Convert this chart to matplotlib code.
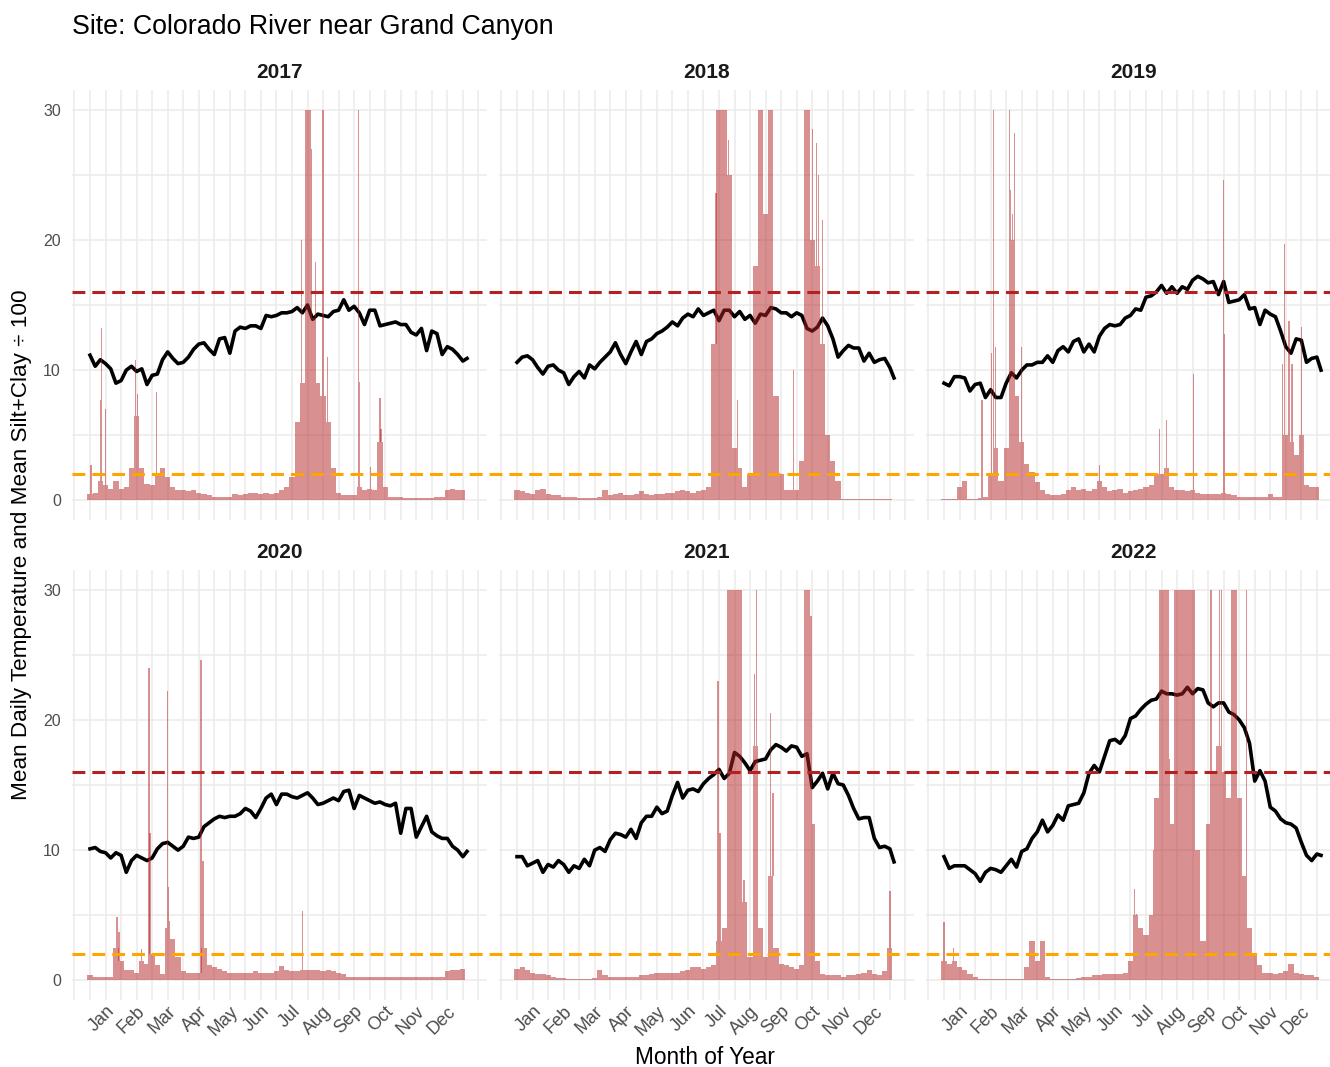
import numpy as np
import matplotlib
matplotlib.use("Agg")
import matplotlib.pyplot as plt
from matplotlib.lines import Line2D
from matplotlib.transforms import blended_transform_factory

plt.rcParams['font.family'] = ['Liberation Sans', 'DejaVu Sans']

years = [2017, 2018, 2019, 2020, 2021, 2022]
months = ['Jan', 'Feb', 'Mar', 'Apr', 'May', 'Jun',
          'Jul', 'Aug', 'Sep', 'Oct', 'Nov', 'Dec']
month_ticks = [15, 45, 75, 105, 135, 165, 195, 225, 255, 285, 315, 345]

# readings every 5 days (day of year, 0 = Jan 1), temperature also on Dec 31
temp_days = np.append(np.arange(0, 365, 5), 364)
sed_days = np.arange(0, 365, 5)

temp_2017 = [11.15, 10.3, 10.8, 10.5, 10.1, 9.0, 9.2, 10.0, 10.3, 9.9,
             10.1, 8.9, 9.6, 9.7, 10.8, 11.4, 10.9, 10.5, 10.6, 11.0,
             11.6, 12.0, 12.1, 11.6, 11.2, 12.4, 12.5, 11.3, 13.0, 13.3,
             13.2, 13.4, 13.4, 13.2, 14.2, 14.1, 14.2, 14.4, 14.4, 14.5,
             14.8, 14.4, 15.0, 13.9, 14.3, 14.2, 14.1, 14.5, 14.6, 15.4,
             14.6, 14.9, 14.4, 13.5, 14.6, 14.6, 13.4, 13.5, 13.6, 13.7,
             13.5, 13.5, 12.9, 12.7, 13.2, 11.5, 13.0, 12.8, 11.2, 11.8,
             11.6, 11.2, 10.7, 10.9]
temp_2018 = [10.6, 11.0, 11.1, 10.8, 10.2, 9.7, 10.3, 10.4, 10.0, 9.8,
             8.9, 9.5, 9.9, 9.4, 10.4, 10.1, 10.6, 11.0, 11.4, 12.1,
             11.2, 10.5, 11.4, 12.2, 11.2, 12.2, 12.4, 12.8, 13.0, 13.3,
             13.7, 13.4, 14.0, 14.3, 14.1, 14.7, 14.2, 14.4, 14.6, 13.8,
             14.6, 14.6, 14.1, 14.5, 13.9, 14.2, 13.6, 14.3, 14.2, 14.8,
             14.7, 14.4, 14.4, 14.1, 14.4, 14.2, 13.2, 13.0, 13.3, 14.0,
             13.4, 12.4, 11.0, 11.5, 11.9, 11.7, 11.7, 10.7, 11.3, 10.6,
             10.8, 10.9, 10.2, 9.4]
temp_2019 = [9.0, 8.8, 9.5, 9.5, 9.4, 8.4, 8.9, 9.0, 7.9, 8.5,
             7.9, 7.9, 9.0, 9.8, 9.4, 10.0, 10.4, 10.4, 10.6, 10.6,
             11.1, 10.6, 11.5, 11.8, 11.4, 12.2, 12.4, 11.4, 12.0, 11.4,
             12.6, 13.2, 13.5, 13.4, 13.5, 14.0, 14.2, 14.7, 14.6, 15.6,
             15.7, 16.0, 16.5, 15.9, 16.4, 15.9, 16.4, 16.2, 16.9, 17.2,
             17.0, 16.7, 16.8, 15.8, 16.8, 15.2, 15.3, 15.4, 15.8, 14.7,
             14.8, 13.5, 14.6, 14.3, 14.1, 13.0, 11.8, 11.3, 12.4, 12.3,
             10.6, 10.9, 11.0, 10.0]
temp_2020 = [10.1, 10.2, 9.9, 9.8, 9.4, 9.8, 9.6, 8.3, 9.2, 9.6,
             9.4, 9.2, 9.4, 10.1, 10.5, 10.6, 10.3, 10.0, 10.3, 11.0,
             10.9, 11.0, 11.8, 12.1, 12.4, 12.6, 12.5, 12.6, 12.6, 12.8,
             13.2, 13.0, 12.5, 13.2, 14.0, 14.3, 13.5, 14.3, 14.3, 14.1,
             14.0, 14.2, 14.4, 14.0, 13.5, 13.6, 13.8, 14.0, 13.8, 14.5,
             14.6, 13.2, 14.2, 14.0, 13.8, 13.6, 13.7, 13.5, 13.4, 13.6,
             11.3, 13.2, 13.2, 11.0, 11.8, 12.6, 11.4, 11.1, 10.9, 10.9,
             10.3, 10.0, 9.5, 9.9]
temp_2021 = [9.5, 9.5, 8.8, 9.0, 9.2, 8.3, 8.9, 8.7, 9.2, 8.9,
             8.3, 8.8, 8.6, 9.3, 8.8, 10.0, 10.2, 9.9, 10.8, 11.3,
             11.2, 11.0, 11.6, 10.9, 12.1, 12.6, 12.6, 13.3, 12.8, 13.0,
             14.2, 15.2, 14.0, 14.6, 14.7, 14.5, 15.1, 15.5, 15.8, 16.2,
             15.5, 15.9, 17.5, 17.2, 16.7, 16.1, 16.8, 16.9, 17.0, 17.7,
             18.1, 17.9, 17.6, 18.0, 17.9, 17.2, 17.4, 14.8, 15.3, 15.9,
             14.7, 15.9, 15.1, 15.0, 14.2, 13.2, 12.4, 12.5, 12.5, 10.9,
             10.2, 10.3, 10.1, 9.1]
temp_2022 = [9.5, 8.6, 8.8, 8.8, 8.8, 8.5, 8.2, 7.6, 8.3, 8.6,
             8.5, 8.3, 8.8, 9.3, 8.7, 9.9, 10.1, 10.9, 11.4, 12.3,
             11.4, 11.9, 12.7, 12.3, 13.4, 13.5, 13.6, 14.4, 15.9, 16.5,
             16.0, 17.2, 18.4, 18.5, 18.2, 18.8, 20.1, 20.3, 20.8, 21.2,
             21.5, 21.6, 22.2, 22.0, 22.0, 21.9, 22.0, 22.5, 22.0, 22.4,
             22.3, 21.3, 21.0, 21.3, 21.3, 20.6, 20.4, 20.0, 19.4, 18.2,
             15.3, 16.1, 15.3, 13.3, 13.0, 12.4, 12.1, 12.0, 11.7, 10.6,
             9.6, 9.2, 9.7, 9.6]

# silt+clay / 100, 5-day level
sed_2017 = [0.5, 0.6, 1.5, 1.2, 0.9, 1.5, 0.9, 1.0, 2.5, 6.5,
            2.5, 1.3, 1.2, 2.0, 2.5, 1.8, 1.0, 0.8, 0.8, 0.7,
            0.8, 0.6, 0.5, 0.4, 0.3, 0.3, 0.3, 0.3, 0.5, 0.4,
            0.5, 0.6, 0.6, 0.5, 0.6, 0.5, 0.6, 0.8, 1.0, 1.8,
            6.0, 9.0, 32, 14, 9.0, 8.0, 6.0, 2.5, 0.6, 0.4,
            0.4, 0.4, 1.0, 0.8, 0.9, 0.8, 4.5, 1.0, 0.3, 0.3,
            0.3, 0.2, 0.2, 0.2, 0.2, 0.2, 0.2, 0.3, 0.3, 0.8,
            0.9, 0.8, 0.8]
sed_2018 = [0.8, 0.7, 0.6, 0.5, 0.8, 0.9, 0.5, 0.4, 0.4, 0.3,
            0.3, 0.3, 0.2, 0.2, 0.2, 0.2, 0.3, 0.8, 0.4, 0.5,
            0.6, 0.4, 0.4, 0.5, 0.7, 0.5, 0.4, 0.5, 0.5, 0.6,
            0.6, 0.7, 0.8, 0.7, 0.6, 0.7, 0.8, 1.0, 12, 40,
            40, 25, 4.0, 2.5, 1.0, 2.0, 18, 32, 22, 32,
            8.0, 2.0, 0.8, 0.8, 0.8, 3.0, 35, 20, 18, 12,
            5.0, 3.0, 1.5, 0.1, 0.1, 0.1, 0.1, 0.1, 0.1, 0.1,
            0.1, 0.1, 0.1]
sed_2019 = [0.1, 0.1, 0.1, 1.0, 1.5, 0.1, 0.1, 0.2, 0.3, 2.0,
            4.0, 1.5, 4.0, 20, 8.0, 4.5, 2.8, 2.2, 1.4, 0.8,
            0.5, 0.4, 0.4, 0.5, 0.8, 1.0, 0.8, 0.9, 0.7, 0.9,
            1.5, 1.0, 0.7, 0.8, 0.9, 0.6, 0.7, 0.8, 0.9, 1.0,
            1.2, 2.0, 2.0, 2.5, 1.0, 0.8, 0.8, 0.7, 0.8, 0.6,
            0.5, 0.5, 0.5, 0.5, 0.6, 0.5, 0.4, 0.3, 0.3, 0.3,
            0.3, 0.3, 0.3, 0.5, 0.3, 0.3, 5.0, 4.5, 3.5, 5.0,
            1.2, 1.0, 1.0]
sed_2020 = [0.4, 0.3, 0.3, 0.3, 0.3, 2.5, 1.5, 0.8, 0.8, 0.6,
            1.5, 1.3, 2.0, 1.2, 0.5, 4.0, 3.2, 1.8, 0.7, 0.6,
            0.6, 0.6, 2.5, 1.2, 1.0, 0.9, 0.7, 0.6, 0.6, 0.6,
            0.6, 0.6, 0.7, 0.6, 0.6, 0.6, 0.7, 1.1, 0.8, 0.7,
            0.7, 0.8, 0.8, 0.8, 0.8, 0.7, 0.8, 0.7, 0.6, 0.5,
            0.3, 0.3, 0.3, 0.3, 0.3, 0.3, 0.3, 0.3, 0.3, 0.3,
            0.3, 0.3, 0.3, 0.3, 0.3, 0.3, 0.3, 0.3, 0.3, 0.7,
            0.8, 0.8, 0.9]
sed_2021 = [0.9, 1.0, 0.8, 0.6, 0.5, 0.5, 0.4, 0.3, 0.2, 0.2,
            0.1, 0.1, 0.1, 0.1, 0.1, 0.2, 0.8, 0.4, 0.3, 0.3,
            0.3, 0.3, 0.3, 0.3, 0.4, 0.4, 0.5, 0.6, 0.6, 0.6,
            0.6, 0.6, 0.7, 0.8, 1.0, 1.0, 0.9, 1.0, 1.2, 3.0,
            4.0, 30, 40, 35, 6.0, 1.8, 18, 4.0, 1.8, 8.0,
            2.5, 1.3, 1.2, 1.0, 0.9, 1.2, 35, 12, 1.5, 0.5,
            0.4, 0.4, 0.4, 0.3, 0.4, 0.4, 0.5, 0.6, 0.8, 0.5,
            0.4, 0.7, 2.5]
sed_2022 = [1.5, 1.3, 1.5, 1.0, 0.8, 0.5, 0.3, 0.1, 0.1, 0.1,
            0.1, 0.1, 0.1, 0.1, 0.1, 0.1, 1.0, 3.0, 1.5, 3.0,
            0.3, 0.1, 0.1, 0.1, 0.1, 0.1, 0.2, 0.3, 0.3, 0.4,
            0.4, 0.5, 0.5, 0.5, 0.5, 0.6, 1.5, 5.0, 4.0, 3.5,
            5.0, 14, 35, 35, 12, 35, 35, 35, 30, 10,
            3.0, 12, 16, 18, 16, 14, 35, 14, 8.0, 4.0,
            2.0, 1.2, 0.6, 0.6, 0.5, 0.6, 0.7, 1.3, 0.6, 0.5,
            0.4, 0.4, 0.3]

# single-day peaks
peak_days_2017 = [1, 10, 11, 15, 44, 46, 64, 204, 213, 214, 218, 225, 229, 259, 260, 271, 280, 281]
peak_vals_2017 = [2.7, 7.7, 13.2, 7.0, 10.8, 8.2, 8.3, 20, 35, 27, 18.3, 35, 11, 35, 9.1, 2.6, 7.9, 5.5]
peak_days_2018 = [192, 204, 213, 267, 285, 289, 291, 295]
peak_vals_2018 = [23.6, 27.7, 7.7, 10, 28.5, 27.4, 25, 21.5]
peak_days_2019 = [36, 37, 46, 48, 50, 63, 64, 66, 68, 75, 150, 208, 215, 241, 270, 271, 327, 329, 333, 336, 345]
peak_vals_2019 = [7.7, 7.7, 11.3, 35, 11.8, 35, 23.8, 22, 28.2, 11.8, 2.7, 5.5, 6.2, 9.7, 24.6, 12.8, 10.5, 19.7, 13.8, 10.5, 13.3]
peak_days_2020 = [26, 28, 50, 57, 58, 75, 76, 77, 107, 109, 205]
peak_vals_2020 = [4.9, 3.7, 2.4, 24.0, 11.3, 22.2, 7.2, 4.6, 24.6, 9.2, 5.3]
peak_days_2021 = [194, 196, 219, 229, 231, 232, 245, 247, 284, 360]
peak_vals_2021 = [23, 11.3, 7.7, 23.5, 35, 17, 20.5, 14.4, 28, 6.9]
peak_days_2022 = [0, 9, 184, 186, 202, 203, 218, 242, 257, 258, 266, 268, 292]
peak_vals_2022 = [4.5, 2.5, 7.0, 5.1, 10, 14, 17, 19, 35, 35, 35, 35, 35]

temps = dict(zip(years, [temp_2017, temp_2018, temp_2019, temp_2020, temp_2021, temp_2022]))
seds = dict(zip(years, [sed_2017, sed_2018, sed_2019, sed_2020, sed_2021, sed_2022]))
peak_days = dict(zip(years, [peak_days_2017, peak_days_2018, peak_days_2019,
                             peak_days_2020, peak_days_2021, peak_days_2022]))
peak_vals = dict(zip(years, [peak_vals_2017, peak_vals_2018, peak_vals_2019,
                             peak_vals_2020, peak_vals_2021, peak_vals_2022]))

W, H = 1330, 1067
fig = plt.figure(figsize=(W / 100, H / 100), dpi=100)

def px_box(left, top, width, height):
    return [left / W, 1 - (top + height) / H, width / W, height / H]

lefts = [72, 499, 926]
tops = [90, 570]
bar_col = '#B22222'
grid_col = '#EBEBEB'

axes = []
for i, yr in enumerate(years):
    r, c = divmod(i, 3)
    ax = fig.add_axes(px_box(lefts[c], tops[r], 415, 430))
    axes.append(ax)
    for s in ax.spines.values():
        s.set_visible(False)
    ax.set_xlim(-17.4, 383.3)
    ax.set_ylim(-1.5, 31.5)
    ax.set_xticks(np.arange(-15, 376, 15), minor=True)
    ax.set_yticks(np.arange(0, 31, 5), minor=True)
    ax.set_yticks([0, 10, 20, 30])
    ax.set_xticks(month_ticks)
    ax.grid(which='both', color=grid_col, lw=1.1, zorder=0)
    ax.set_axisbelow(True)
    ax.tick_params(which='both', length=0, labelsize=11.5, labelcolor='#4D4D4D')
    ax.tick_params(axis='y', pad=8)
    if c == 0:
        ax.set_yticklabels(['0', '10', '20', '30'])
    else:
        ax.set_yticklabels([])
    if r == 1:
        ax.set_xticklabels(months)
        plt.setp(ax.get_xticklabels(), rotation=45, ha='right', va='top',
                 rotation_mode='anchor', fontsize=13)
        ax.tick_params(axis='x', pad=2)
    else:
        ax.set_xticklabels([])

    # temperature line (bars drawn over it with alpha)
    ax.plot(temp_days, temps[yr], color='black', lw=2.6, zorder=2,
            solid_joinstyle='round')
    base = np.minimum(np.array(seds[yr]), 30)
    ax.bar(sed_days, base, width=5, color=bar_col, alpha=0.5, lw=0, zorder=3)
    pd_ = np.array(peak_days[yr])
    pv = np.minimum(np.array(peak_vals[yr]), 30)
    under = base[np.clip(np.round(pd_ / 5).astype(int), 0, len(base) - 1)]
    h = np.clip(pv - under, 0, None)
    ax.bar(pd_, h, bottom=under, width=1.3, color=bar_col, alpha=0.5, lw=0, zorder=3)

    ax.set_title(str(yr), fontsize=15, fontweight='bold', color='#1A1A1A', pad=8.5)

# reference lines run across each row of panels, on top of everything
for r in range(2):
    ax0 = axes[3 * r]
    tr = blended_transform_factory(fig.transFigure, ax0.transData)
    x0 = lefts[0] / W
    for yv, col in [(16, '#B22222'), (2, '#FFA500')]:
        ln = Line2D([x0, 1.0], [yv, yv], transform=tr, color=col, lw=2.2,
                    dashes=(4.2, 2.3), zorder=5)
        fig.add_artist(ln)

fig.text(72 / W, 1 - 27 / H, 'Site: Colorado River near Grand Canyon',
         ha='left', va='center', fontsize=19.3, color='black')
fig.text(22 / W, 1 - 545 / H, 'Mean Daily Temperature and Mean Silt+Clay ÷ 100',
         rotation=90, ha='center', va='center', fontsize=16.2, color='black')
fig.text(705 / W, 1 - 1057 / H, 'Month of Year', ha='center', va='center',
         fontsize=16.3, color='black')

fig.savefig('out.png', dpi=100, facecolor='white')
